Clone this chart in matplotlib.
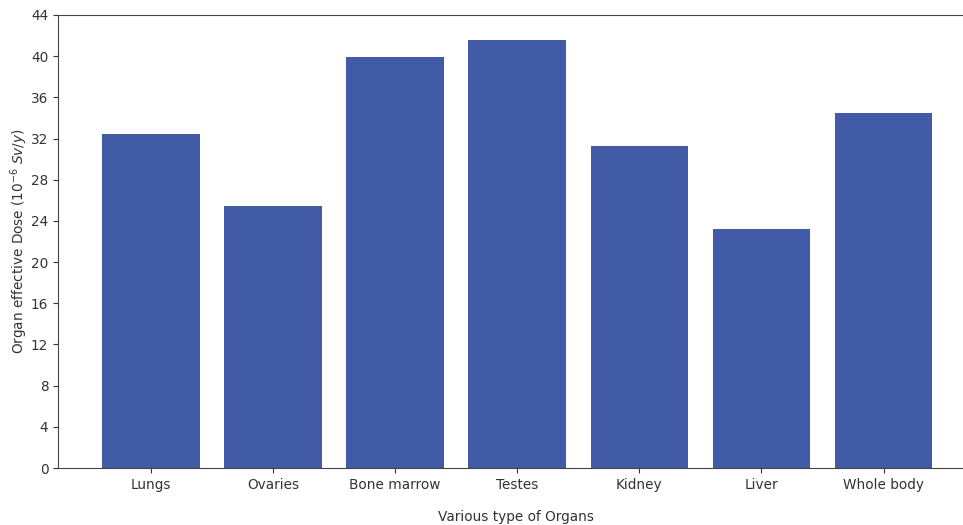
import numpy as np
from matplotlib import pyplot as plt

organs = ['Lungs', 'Ovaries', 'Bone marrow', 'Testes', 'Kidney', 'Liver', 'Whole body']
dose = [32.4, 25.4, 39.95, 41.55, 31.3, 23.25, 34.5]
yticks = list(range(0, 45, 4))

BAR_COLOR = '#425ba6'
TEXT_COLOR = '#333333'
FS = 9.8

fig = plt.figure(figsize=(9.63, 5.25), dpi=100)
# right spine falls just outside the picture, as in the reference
ax = fig.add_axes([58 / 963, 57 / 525, 916 / 963, 453 / 525])

x = np.arange(len(organs))
ax.bar(x, dose, width=0.8, color=BAR_COLOR)

ax.set_xticks(x)
ax.set_xticklabels(organs)
ax.set_xlim(-0.76, 6.74)
ax.set_yticks(yticks)
ax.set_ylim(0, 44)
ax.tick_params(labelsize=FS, colors=TEXT_COLOR)
for s in ax.spines.values():
  s.set_color('#444444')

ax.set_xlabel('Various type of Organs', fontsize=FS, color=TEXT_COLOR, labelpad=13.5)
ax.set_ylabel('Organ effective Dose ($10^{-6}$ $Sv/y$)', fontsize=FS, color=TEXT_COLOR, labelpad=1)

fig.savefig('out.png', dpi=100)
